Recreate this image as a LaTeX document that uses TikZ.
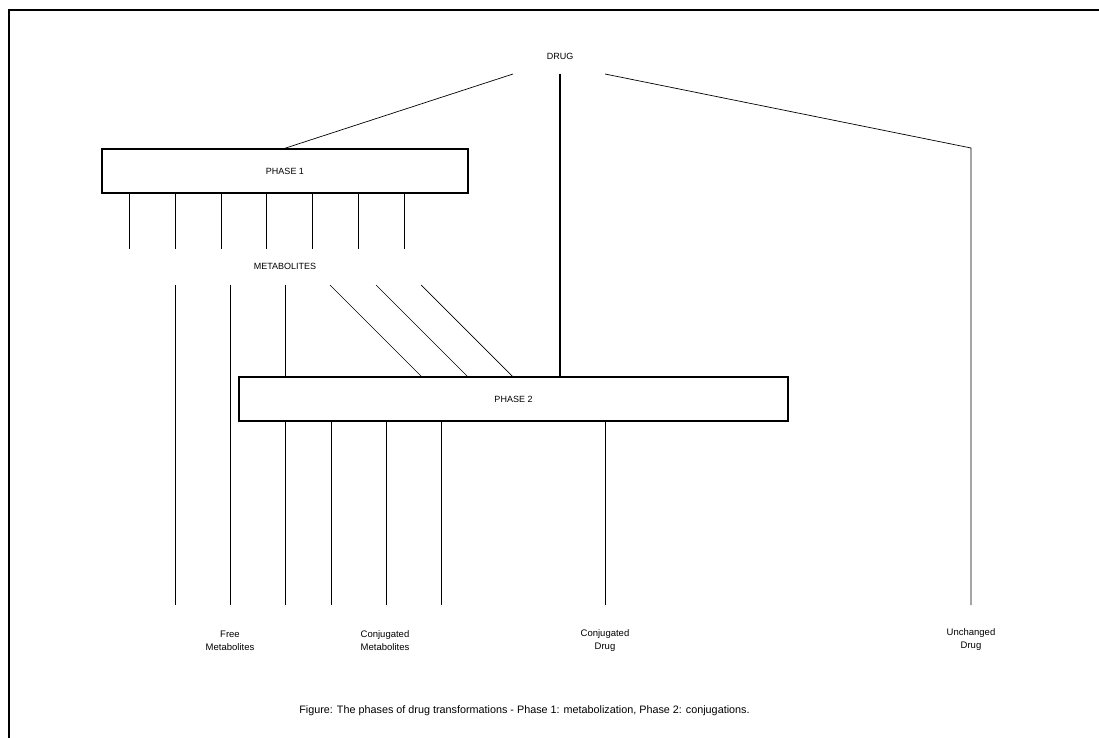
\documentclass[tikz,border=0pt]{standalone}
\usepackage{fontspec}
\setmainfont{Liberation Sans}
\usetikzlibrary{positioning}

\begin{document}
\begin{tikzpicture}[x=1pt, y=-1pt,
  phase/.style={draw, rectangle, line width=1.5pt, minimum height=44pt, inner sep=0pt, font=\fontsize{9}{10}\selectfont},
  lbl/.style={align=center, inner sep=1pt, font=\fontsize{9.5}{13}\selectfont},
  link/.style={line width=0.7pt},
  stem/.style={line width=1.4pt}
]
\useasboundingbox (0,0) rectangle (1099,738);
\draw[line width=1.6pt] (9,10) rectangle (1130,760);
% nodes
\node[lbl, font=\fontsize{9}{10}\selectfont] (drug) at (560,56) {DRUG};
\node[phase, minimum width=366pt] (p1) at (285,171) {PHASE 1};
\node[lbl, font=\fontsize{9}{10}\selectfont] (met) at (285,266) {METABOLITES};
\node[phase, minimum width=549pt] (p2) at (513.5,399) {PHASE 2};
\node[lbl] (free) at (230,641) {Free\\Metabolites};
\node[lbl] (conjmet) at (385,641) {Conjugated\\Metabolites};
\node[lbl] (conjdrug) at (605,641) {Conjugated\\Drug};
\node[lbl] (unch) at (971,640) {Unchanged\\Drug};
\node[lbl, font=\fontsize{10.8}{12}\selectfont] (cap) at (524.5,711) {Figure: The phases of drug transformations - Phase 1: metabolization, Phase 2: conjugations.};
% free ends
\coordinate (dl) at (513,74);
\coordinate (dc) at (560,74);
\coordinate (dr) at (605,74);
\coordinate (ub) at (971,148);
\coordinate (ue) at (971,605);
% drug
\draw[link] (dl) -- (p1.north);
\draw[stem] (dc) -- (dc |- p2.north);
\draw[link] (dr) -- (ub) -- (ue);
% phase 1 to metabolites
\foreach \x in {129,175,221,266,312,358,404}
  \draw[link] (\x,0 |- p1.south) -- (\x,249);
\foreach \x in {175,230}
  \draw[link] (\x,285) -- (\x,605);
\draw[link] (285,285) -- (285,0 |- p2.north);
\foreach \x in {330,376,421}
  \draw[link] (\x,285) -- (\x+92,377);
% phase 2 out
\foreach \x in {285,331,386,441,605}
  \draw[link] (\x,0 |- p2.south) -- (\x,605);
\end{tikzpicture}
\end{document}
